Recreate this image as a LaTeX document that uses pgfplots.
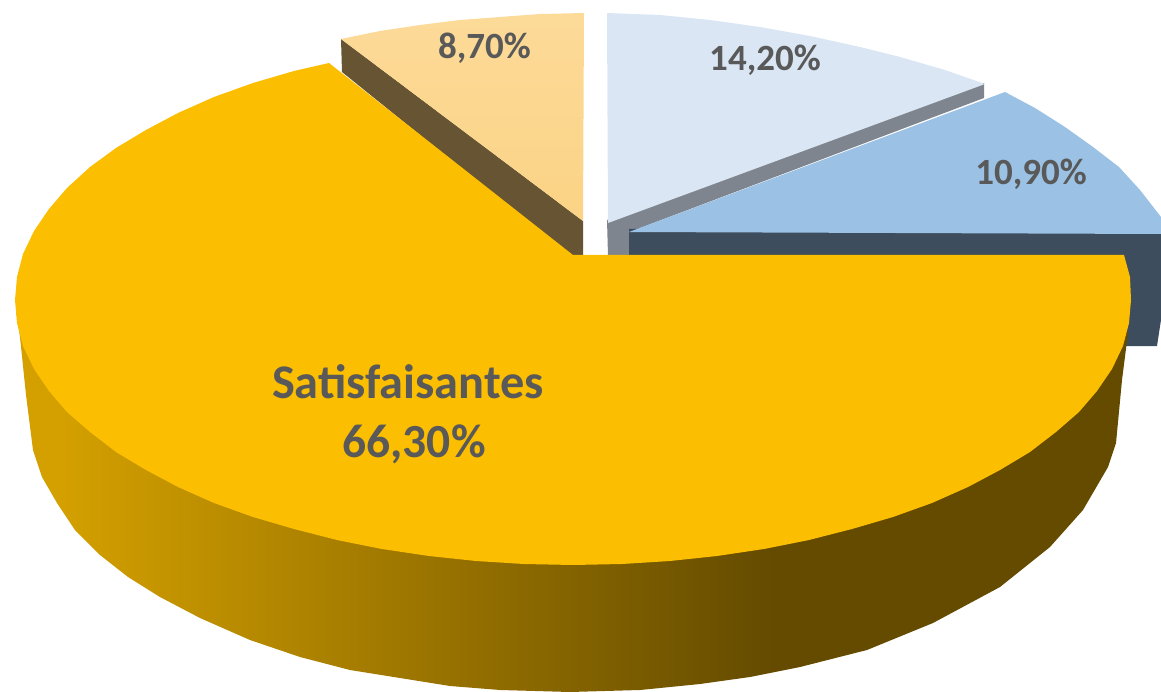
\documentclass[border=0pt]{standalone}
\usepackage{fontspec}
\setmainfont{Carlito}
\usepackage{pgfplots}
\pgfplotsset{compat=1.18}
\definecolor{txt}{HTML}{595959}
\definecolor{gold}{HTML}{FBBE00}
\definecolor{palegold}{HTML}{D4A000}
\definecolor{darkgold}{HTML}{644B00}
\pgfdeclarehorizontalshading{wall}{100bp}{color(0bp)=(palegold); color(27bp)=(palegold); color(59bp)=(darkgold); color(100bp)=(darkgold)}
\begin{document}
\begin{tikzpicture}
\useasboundingbox (0,0) rectangle (1161pt,692pt);
\begin{axis}[
  width=1161pt, height=692pt, scale only axis,
  xmin=0, xmax=1161, ymin=0, ymax=692,
  y dir=reverse,
  hide axis,
  clip=true
]
% 8,70 slice: side then top
\addplot[draw=none, fill={rgb,255:red,102;green,84;blue,51}] coordinates {
  (341,39) (583,221) (583,256) (570,256) (342,72)};
\addplot[draw=none, top color={rgb,255:red,252;green,218;blue,152}, bottom color={rgb,255:red,251;green,211;blue,133}] coordinates {
  (341,39) (380,31) (420,25) (460,20) (500,17) (540,14) (584,13) (583,221)};
% 14,20 slice
\addplot[draw=none, fill={rgb,255:red,127;green,133;blue,142}] coordinates {
  (607,220) (984,83) (984,98) (640,228) (640,256) (608,256)};
\addplot[draw=none, fill={rgb,255:red,218;green,230;blue,243}] coordinates {
  (607,13) (660,15) (710,20) (760,27) (810,36) (860,47) (900,57) (945,70) (985,84) (608,223)};
% 10,90 slice
\addplot[draw=none, fill={rgb,255:red,62;green,77;blue,93}] coordinates {
  (629,229) (1161,229) (1161,320) (1157,346) (1100,346) (1100,258) (629,258)};
\addplot[draw=none, fill={rgb,255:red,155;green,193;blue,228}] coordinates {
  (1005,92) (1035,108) (1065,127) (1093,147) (1119,167) (1140,190) (1161,217) (1161,234) (629,232)};
% 66,30 slice: side then top
\addplot[draw=none, shade, shading=wall] coordinates {
  (16,310) (20,337) (26,395) (33,450) (42,477) (57,503) (75,530) (100,555) (128,577) (160,597)
  (200,618) (250,640) (300,657) (350,670) (400,678) (450,686) (500,690) (570,692) (640,690)
  (700,684) (750,677) (800,667) (867,650) (933,623) (1000,587) (1050,547) (1083,510)
  (1108,467) (1116,443) (1122,380) (1128,333) (1100,300) (60,300)};
\addplot[draw=none, fill=gold] coordinates {
  (573,255) (329,63) (294,71) (253,83) (214,97) (178,113) (146,130) (116,148) (90,167) (67,188)
  (49,209) (34,231) (23,254) (17,277) (15,300) (17,323) (23,346) (34,369) (49,391) (67,412)
  (90,432) (116,452) (146,470) (178,487) (214,503) (253,517) (294,529) (337,540) (382,549)
  (429,556) (476,561) (524,564) (573,565) (622,564) (670,561) (717,556) (764,549) (809,540)
  (852,529) (893,517) (932,503) (968,487) (1000,470) (1030,452) (1056,432) (1079,412) (1097,391)
  (1112,369) (1123,346) (1129,323) (1131,300) (1130,277) (1124,255)};
\node[anchor=base, text=txt, font=\fontsize{48.3pt}{50pt}\selectfont\bfseries] at (axis cs:408,398) {Satisfaisantes};
\node[anchor=base, text=txt, font=\fontsize{47.5pt}{50pt}\selectfont\bfseries] at (axis cs:414,457) {66,30\%};
\node[anchor=base, text=txt, font=\fontsize{37pt}{40pt}\selectfont\bfseries] at (axis cs:484.5,59) {8,70\%};
\node[anchor=base, text=txt, font=\fontsize{37pt}{40pt}\selectfont\bfseries] at (axis cs:765,71) {14,20\%};
\node[anchor=base, text=txt, font=\fontsize{37pt}{40pt}\selectfont\bfseries] at (axis cs:1031,185) {10,90\%};
\end{axis}
\end{tikzpicture}
\end{document}
